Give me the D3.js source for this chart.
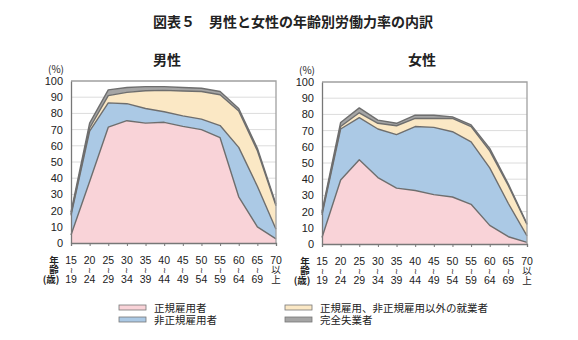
<!DOCTYPE html>
<html lang="ja">
<head>
<meta charset="utf-8">
<script src="https://cdn.jsdelivr.net/npm/d3@7.9.0/dist/d3.min.js"></script>
<style>
  body { margin: 0; background: #fff; }
  svg { display: block; font-family: "Noto Sans CJK JP", "Noto Sans", sans-serif; }
</style>
</head>
<body>
<svg id="chart" width="578" height="340"></svg>
<script>
// age groups (lower bound, upper bound row)
const ageFrom = ['15', '20', '25', '30', '35', '40', '45', '50', '55', '60', '65', '70'];
const ageTo = ['19', '24', '29', '34', '39', '44', '49', '54', '59', '64', '69', '上'];
const yTicks = [0, 10, 20, 30, 40, 50, 60, 70, 80, 90, 100];

const seriesKeys = ['regular', 'nonRegular', 'other', 'unemployed'];
const seriesNames = ['正規雇用者', '非正規雇用者', '正規雇用、非正規雇用以外の就業者', '完全失業者'];
const seriesColors = ['#f9d3d8', '#abc9e5', '#fbe8c5', '#a5a5a5'];

// 男性 (%)
const maleRegular    = [5, 38, 71.5, 75.5, 74, 74.5, 72, 70, 65, 28.5, 10, 2.5];
const maleNonRegular = [12, 31, 15, 10.5, 9, 6.5, 6.5, 6.5, 7.5, 30.5, 25, 6];
const maleOther      = [1, 2, 4.5, 7, 11, 13.2, 15.3, 17, 19, 22.5, 22, 14.5];
const maleUnemployed = [1, 3, 3.5, 3, 2.5, 2.3, 2.2, 2, 2, 1.5, 1.5, 1];

// 女性 (%)
const femaleRegular    = [4, 39.5, 52, 41, 34.5, 33, 30.5, 29, 24.5, 11.5, 4.5, 1];
const femaleNonRegular = [14, 31.5, 26, 30, 33, 39.5, 41.5, 40.3, 38.5, 35.5, 20.5, 4];
const femaleOther      = [1, 1.5, 3, 3.5, 5.5, 5, 5.5, 8.2, 9.5, 10.5, 11, 7];
const femaleUnemployed = [1, 2.5, 3, 2, 1.5, 2, 2, 1, 1, 1.5, 1, 0.5];

function toRows(reg, nonReg, other, unemp) {
  return ageFrom.map((a, i) => ({
    age: a, regular: reg[i], nonRegular: nonReg[i], other: other[i], unemployed: unemp[i]
  }));
}

const svg = d3.select('#chart');

svg.append('text')
  .attr('x', 293).attr('y', 27)
  .attr('text-anchor', 'middle')
  .attr('font-size', 14).attr('font-weight', 'bold')
  .attr('fill', '#222')
  .text('図表５　男性と女性の年齢別労働力率の内訳');

const stack = d3.stack().keys(seriesKeys);

function drawPanel(rows, title, left, right, top, bottom, titleX) {
  const g = svg.append('g');
  const x = d3.scalePoint().domain(ageFrom).range([left, right]);
  const y = d3.scaleLinear().domain([0, 100]).range([bottom, top]);

  g.append('text')
    .attr('x', titleX).attr('y', 65)
    .attr('text-anchor', 'middle')
    .attr('font-size', 14).attr('font-weight', 'bold')
    .attr('fill', '#222')
    .text(title);

  // gridlines
  g.selectAll('.grid').data(yTicks.slice(1, -1)).join('line')
    .attr('x1', left).attr('x2', right)
    .attr('y1', d => y(d)).attr('y2', d => y(d))
    .attr('stroke', '#dcdcdc').attr('stroke-width', 1);

  const layers = stack(rows);
  const area = d3.area()
    .x(d => x(d.data.age))
    .y0(d => y(d[0]))
    .y1(d => y(d[1]));
  const line = d3.line()
    .x(d => x(d.data.age))
    .y(d => y(d[1]));

  g.selectAll('.area').data(layers).join('path')
    .attr('d', area)
    .attr('fill', (d, i) => seriesColors[i]);

  g.selectAll('.edge').data(layers).join('path')
    .attr('d', line)
    .attr('fill', 'none')
    .attr('stroke', '#6e6e6e')
    .attr('stroke-width', 1.4)
    .attr('stroke-linejoin', 'round');

  // frame
  g.append('path')
    .attr('d', `M${left},${top}H${right}V${bottom}`)
    .attr('fill', 'none').attr('stroke', '#a0a0a0').attr('stroke-width', 1.3);

  // y axis
  const yAxis = g.append('g')
    .attr('transform', `translate(${left},0)`)
    .call(d3.axisLeft(y).tickValues(yTicks).tickSize(0).tickPadding(8));
  yAxis.select('.domain').attr('stroke', '#777').attr('stroke-width', 1.3);
  yAxis.selectAll('text').attr('font-size', 11).attr('fill', '#222')
    .attr('font-family', '"Liberation Sans", Arial, sans-serif');

  g.append('text')
    .attr('x', left - 15).attr('y', top - 8)
    .attr('text-anchor', 'middle')
    .attr('font-size', 10).attr('fill', '#222')
    .text('(%)');

  // x axis
  const xAxis = g.append('g')
    .attr('transform', `translate(0,${bottom})`)
    .call(d3.axisBottom(x).tickSize(3).tickFormat(''));
  xAxis.select('.domain').attr('stroke', '#777').attr('stroke-width', 1.3);
  xAxis.selectAll('.tick line').attr('stroke', '#777');

  // three-row age labels: "15 / ≀ / 19", last one "70 / 以 / 上"
  const last = ageFrom.length - 1;
  const labels = g.append('g').attr('fill', '#222').attr('text-anchor', 'middle');
  labels.selectAll('.from').data(ageFrom).join('text')
    .attr('x', d => x(d)).attr('y', bottom + 21)
    .attr('font-size', 10.5)
    .attr('font-family', '"Liberation Sans", Arial, sans-serif')
    .text(d => d);
  labels.selectAll('.tilde').data(ageFrom).join('text')
    .attr('x', d => x(d)).attr('y', bottom + 30)
    .attr('font-size', (d, i) => i === last ? 9.5 : 8)
    .text((d, i) => i === last ? '以' : '≀');
  labels.selectAll('.to').data(ageFrom).join('text')
    .attr('x', d => x(d)).attr('y', bottom + 39.5)
    .attr('font-size', (d, i) => i === last ? 9.5 : 10.5)
    .attr('font-family', (d, i) => i === last ? null : '"Liberation Sans", Arial, sans-serif')
    .text((d, i) => ageTo[i]);

  const head = g.append('g').attr('font-size', 9.5).attr('font-weight', 'bold')
    .attr('fill', '#222').attr('text-anchor', 'middle');
  head.append('text').attr('x', left - 17).attr('y', bottom + 21).text('年');
  head.append('text').attr('x', left - 17).attr('y', bottom + 30).text('齢');
  head.append('text').attr('x', left - 20).attr('y', bottom + 39.5).text('(歳)');
}

drawPanel(toRows(maleRegular, maleNonRegular, maleOther, maleUnemployed),
  '男性', 71, 276, 81, 243, 167);
drawPanel(toRows(femaleRegular, femaleNonRegular, femaleOther, femaleUnemployed),
  '女性', 322, 527, 82, 244, 422);

// legend
const legendPos = [[119, 308], [119, 320], [285, 308], [285, 320]];
const legend = svg.append('g');
seriesNames.forEach((name, i) => {
  const [lx, ly] = legendPos[i];
  legend.append('rect')
    .attr('x', lx).attr('y', ly - 3)
    .attr('width', 27).attr('height', 5)
    .attr('fill', seriesColors[i])
    .attr('stroke', '#777').attr('stroke-width', 0.8);
  legend.append('text')
    .attr('x', lx + 35).attr('y', ly + 4)
    .attr('font-size', 10.5).attr('fill', '#222')
    .text(name);
});
</script>
</body>
</html>
